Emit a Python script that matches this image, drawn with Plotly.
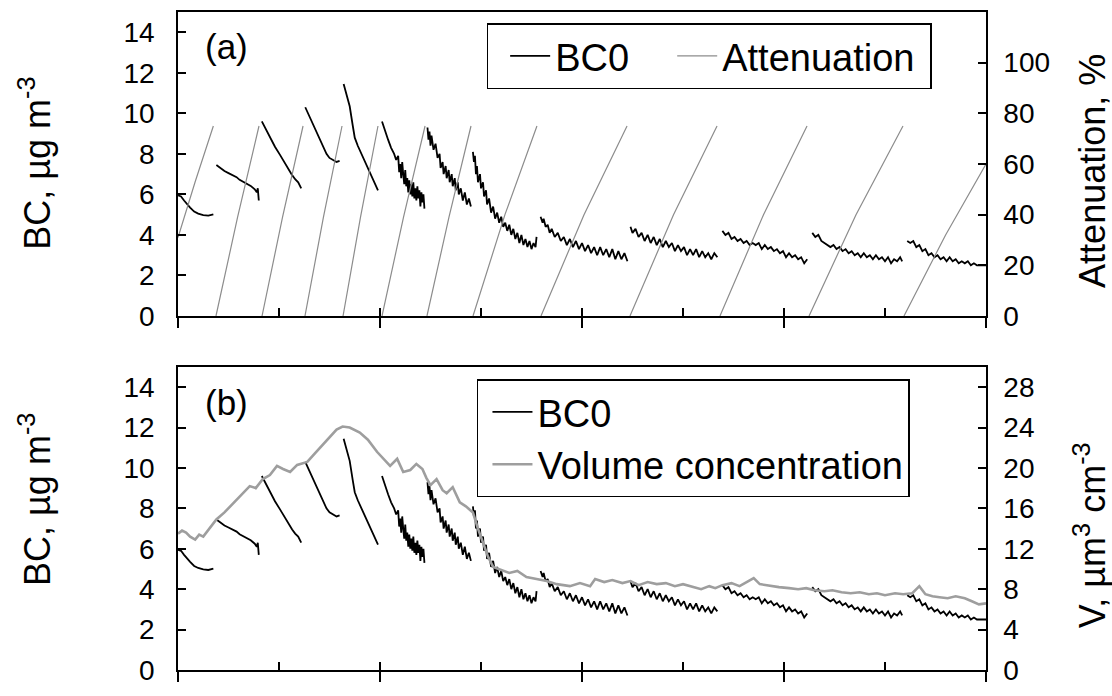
import plotly.graph_objects as go

FONT = "Liberation Sans, Arial, sans-serif"
NBSP = "\u00a0"

# ---- BC0 (µg m-3), one segment per filter spot, None = filter change ----
bc_time = [
    0.00, 0.03, 0.06, 0.09, 0.12, 0.16, 0.20, 0.25, 0.30, 0.35, None,
    0.38, 0.42, 0.46, 0.50, 0.54, 0.58, 0.61, 0.65, 0.69, 0.72, 0.76, 0.78, 0.79, 0.80, None,
    0.83, 0.86, 0.91, 0.96, 1.01, 1.05, 1.09, 1.13, 1.16, 1.19, 1.22, None,
    1.26, 1.30, 1.34, 1.38, 1.41, 1.44, 1.47, 1.50, 1.54, 1.57, 1.60, None,
    1.64, 1.67, 1.70, 1.73, 1.75, 1.78, 1.82, 1.86, 1.90, 1.94, 1.98, None,
    2.02, 2.05, 2.08, 2.11, 2.14, 2.16, 2.18, 2.19, 2.20, 2.21, 2.22, 2.23, 2.24, 2.25, 2.26, 2.27, 2.28,
    2.29, 2.30, 2.31, 2.32, 2.33, 2.34, 2.35, 2.36, 2.37, 2.38, 2.39, 2.40, 2.41, 2.42, 2.43, 2.44, None,
    2.47, 2.48, 2.49, 2.50, 2.51, 2.53, 2.55, 2.57, 2.59, 2.60, 2.62, 2.63, 2.65, 2.66,
    2.68, 2.69, 2.71, 2.72, 2.74, 2.75, 2.77, 2.78, 2.80, 2.82, 2.84, 2.86, 2.88, 2.90, None,
    2.92, 2.93, 2.94, 2.95, 2.96, 2.97, 2.99, 3.00, 3.02, 3.03, 3.05, 3.06, 3.08, 3.10, 3.12, 3.14, 3.16, 3.18,
    3.20, 3.22, 3.24, 3.26, 3.28, 3.30, 3.32, 3.34, 3.36, 3.38, 3.40, 3.42, 3.44, 3.46, 3.48, 3.50, 3.52, 3.54, 3.55, None,
    3.59, 3.61, 3.62, 3.64, 3.66, 3.68, 3.70, 3.73, 3.76, 3.79, 3.82, 3.85, 3.88, 3.91, 3.94, 3.97,
    4.00, 4.03, 4.06, 4.09, 4.12, 4.15, 4.18, 4.21, 4.24, 4.27, 4.30, 4.33, 4.36, 4.39, 4.42, 4.45, None,
    4.48, 4.50, 4.53, 4.56, 4.59, 4.62, 4.65, 4.68, 4.71, 4.74, 4.77, 4.80, 4.83, 4.86, 4.89,
    4.92, 4.95, 4.98, 5.01, 5.04, 5.07, 5.10, 5.13, 5.16, 5.19, 5.22, 5.25, 5.28, 5.31, 5.34, None,
    5.39, 5.42, 5.45, 5.48, 5.51, 5.54, 5.57, 5.60, 5.63, 5.66, 5.69, 5.72, 5.75, 5.78, 5.81,
    5.84, 5.87, 5.90, 5.93, 5.96, 5.99, 6.02, 6.05, 6.08, 6.11, 6.14, 6.17, 6.20, 6.23, None,
    6.28, 6.31, 6.34, 6.37, 6.40, 6.43, 6.46, 6.49, 6.52, 6.55, 6.58, 6.61, 6.64, 6.67, 6.70,
    6.73, 6.76, 6.79, 6.82, 6.85, 6.88, 6.91, 6.94, 6.97, 7.00, 7.03, 7.06, 7.09, 7.12, 7.15, 7.17, None,
    7.22, 7.25, 7.28, 7.31, 7.34, 7.37, 7.40, 7.43, 7.46, 7.49, 7.52, 7.55, 7.58,
    7.61, 7.64, 7.67, 7.70, 7.73, 7.76, 7.79, 7.82, 7.85, 7.88, 7.91, 7.95, 8.00,
]
bc_value = [
    5.95, 5.90, 5.70, 5.50, 5.35, 5.15, 5.05, 4.98, 4.95, 5.02, None,
    7.45, 7.30, 7.15, 7.05, 6.95, 6.85, 6.72, 6.60, 6.48, 6.42, 6.25, 6.10, 6.30, 5.70, None,
    9.60, 9.30, 8.80, 8.35, 7.95, 7.60, 7.30, 6.95, 6.75, 6.60, 6.30, None,
    10.30, 9.85, 9.45, 9.00, 8.70, 8.30, 8.00, 7.80, 7.70, 7.60, 7.65, None,
    11.45, 10.90, 10.35, 9.40, 8.80, 8.40, 7.95, 7.55, 7.10, 6.65, 6.20, None,
    9.6, 9.1, 8.7, 8.3, 8.0, 7.7, 7.9, 7.1, 7.5, 6.8, 7.6, 7.0, 6.5, 7.2, 6.4, 6.8, 6.1,
    6.7, 6.0, 6.5, 5.9, 6.6, 5.8, 6.3, 5.7, 6.4, 5.8, 6.2, 5.4, 6.1, 5.6, 6.0, 5.3, None,
    9.3, 8.7, 9.1, 8.4, 8.9, 8.2, 8.5, 7.8, 8.0, 7.3, 7.6, 7.0, 7.4, 6.8,
    7.2, 6.6, 7.0, 6.4, 6.8, 6.2, 6.6, 6.0, 6.3, 5.7, 6.1, 5.5, 5.8, 5.4, None,
    8.1, 7.6, 7.9, 7.0, 7.4, 6.6, 7.0, 6.3, 6.6, 5.9, 6.2, 5.5, 5.8, 5.1, 5.4, 4.8, 5.1, 4.6,
    4.9, 4.4, 4.6, 4.2, 4.5, 4.0, 4.3, 3.8, 4.1, 3.6, 4.0, 3.5, 3.8, 3.4, 3.7, 3.3, 3.6, 3.4, 3.9, None,
    4.9, 4.6, 4.8, 4.4, 4.5, 4.1, 4.3, 3.9, 4.1, 3.7, 3.9, 3.5, 3.8, 3.4, 3.7, 3.3,
    3.6, 3.2, 3.5, 3.1, 3.4, 3.0, 3.4, 3.0, 3.3, 2.9, 3.3, 2.8, 3.2, 2.8, 3.1, 2.7, None,
    4.4, 4.1, 4.3, 3.9, 4.1, 3.7, 4.0, 3.6, 3.9, 3.5, 3.8, 3.4, 3.7, 3.4, 3.6,
    3.2, 3.5, 3.2, 3.4, 3.0, 3.3, 3.0, 3.3, 2.9, 3.2, 2.9, 3.1, 2.8, 3.1, 2.9, None,
    4.2, 4.0, 4.1, 3.8, 3.9, 3.7, 3.8, 3.6, 3.7, 3.5, 3.6, 3.5, 3.6, 3.3, 3.5,
    3.3, 3.4, 3.2, 3.3, 3.1, 3.2, 2.9, 3.1, 2.9, 3.0, 2.8, 2.9, 2.6, 2.8, None,
    4.1, 3.9, 4.0, 3.7, 3.6, 3.5, 3.4, 3.5, 3.3, 3.4, 3.2, 3.3, 3.1, 3.2, 3.0,
    3.1, 2.9, 3.1, 2.9, 3.0, 2.8, 3.0, 2.8, 2.9, 2.7, 2.9, 2.6, 2.8, 2.7, 2.9, 2.7, None,
    3.7, 3.6, 3.7, 3.4, 3.5, 3.2, 3.3, 3.0, 3.1, 2.9, 3.0, 2.8, 2.9,
    2.7, 2.9, 2.7, 2.8, 2.6, 2.7, 2.6, 2.7, 2.5, 2.6, 2.5, 2.5, 2.5,
]

# ---- Attenuation (%), one ramp per filter spot ----
att_time = [
    0.00, 0.17, 0.35, None,
    0.376, 0.59, 0.802, None,
    0.832, 1.035, 1.238, None,
    1.257, 1.44, 1.624, None,
    1.634, 1.807, 1.980, None,
    2.020, 2.233, 2.446, None,
    2.465, 2.683, 2.901, None,
    2.921, 3.237, 3.554, None,
    3.594, 4.02, 4.446, None,
    4.475, 4.906, 5.337, None,
    5.366, 5.797, 6.228, None,
    6.248, 6.713, 7.178, None,
    7.188, 7.60, 8.00,
]
att_value = [
    31, 53, 75, None,
    0, 39, 75, None,
    0, 39, 75, None,
    0, 39, 75, None,
    0, 39, 75, None,
    0, 39, 75, None,
    0, 39, 75, None,
    0, 40, 75, None,
    0, 40, 75, None,
    0, 40, 75, None,
    0, 40, 75, None,
    0, 40, 75, None,
    0, 32, 60,
]

# ---- Volume concentration (µm3 cm-3) ----
vol_time = [
    0.00, 0.04, 0.08, 0.12, 0.17, 0.21, 0.25, 0.30, 0.38, 0.46,
    0.54, 0.62, 0.71, 0.77, 0.84, 0.91, 0.98, 1.04, 1.11, 1.18,
    1.28, 1.36, 1.44, 1.50, 1.57, 1.63, 1.70, 1.80, 1.88, 1.97,
    2.04, 2.10, 2.17, 2.23, 2.30, 2.36, 2.42, 2.46, 2.50, 2.56,
    2.62, 2.66, 2.72, 2.79, 2.85, 2.92, 2.97, 3.02, 3.07, 3.12,
    3.20, 3.28, 3.36, 3.45, 3.55, 3.65, 3.75, 3.88, 3.98, 4.08,
    4.13, 4.22, 4.30, 4.40, 4.48, 4.56, 4.65, 4.74, 4.83, 4.92,
    5.00, 5.10, 5.18, 5.26, 5.32, 5.39, 5.48, 5.56, 5.63, 5.70,
    5.76, 5.87, 5.95, 6.05, 6.14, 6.22, 6.30, 6.40, 6.48, 6.57,
    6.66, 6.75, 6.84, 6.92, 7.00, 7.10, 7.18, 7.27, 7.34, 7.40,
    7.47, 7.54, 7.62, 7.70, 7.79, 7.86, 7.93, 8.00,
]
vol_value = [
    13.5, 13.8, 13.6, 13.2, 12.9, 13.4, 13.2, 13.9, 14.9, 15.6,
    16.4, 17.2, 18.2, 18.0, 18.9, 19.3, 20.2, 19.9, 19.6, 20.3,
    20.6, 21.5, 22.4, 23.0, 23.8, 24.1, 24.0, 23.5, 22.8, 21.6,
    20.9, 20.2, 20.9, 19.6, 19.8, 20.4, 19.9, 19.0, 18.3, 18.9,
    17.8, 17.5, 18.1, 16.6, 16.2, 15.6, 14.0, 12.6, 11.2, 10.2,
    9.9, 9.6, 9.8, 9.2, 9.0, 8.8, 8.5, 8.3, 8.6, 8.3,
    9.0, 8.7, 8.9, 8.6, 8.8, 8.4, 8.7, 8.5, 8.6, 8.3,
    8.5, 8.2, 8.0, 8.3, 8.1, 8.4, 8.6, 8.3, 8.7, 9.1,
    8.5, 8.3, 8.2, 8.1, 8.0, 8.1, 7.9, 7.8, 7.9, 7.7,
    7.6, 7.7, 7.5, 7.6, 7.4, 7.6, 7.5, 7.6, 8.3, 7.5,
    7.3, 7.2, 7.1, 7.3, 7.1, 6.8, 6.5, 6.6,
]

bc_ticks = [0, 2, 4, 6, 8, 10, 12, 14]
att_ticks = [0, 20, 40, 60, 80, 100]
vol_ticks = [0, 4, 8, 12, 16, 20, 24, 28]
x_minor_ticks = [1, 2, 3, 4, 5, 6, 7]
x_major_ticks = [0, 2, 4, 6, 8]

fig = go.Figure()
fig.add_trace(go.Scatter(x=bc_time, y=bc_value, mode="lines", name="BC0" + NBSP * 2,
                         line=dict(color="black", width=1.8),
                         xaxis="x", yaxis="y", legend="legend"))
fig.add_trace(go.Scatter(x=att_time, y=att_value, mode="lines", name="Attenuation" + NBSP,
                         line=dict(color="#8c8c8c", width=1.2),
                         xaxis="x", yaxis="y2", legend="legend"))
fig.add_trace(go.Scatter(x=bc_time, y=bc_value, mode="lines", name="BC0",
                         line=dict(color="black", width=1.8),
                         xaxis="x2", yaxis="y3", legend="legend2"))
fig.add_trace(go.Scatter(x=vol_time, y=vol_value, mode="lines", name="Volume concentration",
                         line=dict(color="#9e9e9e", width=2.6),
                         xaxis="x2", yaxis="y4", legend="legend2"))
# empty helper traces so the overlay tick axes are drawn
fig.add_trace(go.Scatter(x=[], y=[], xaxis="x3", yaxis="y", showlegend=False, hoverinfo="skip"))
fig.add_trace(go.Scatter(x=[], y=[], xaxis="x4", yaxis="y3", showlegend=False, hoverinfo="skip"))

axline = dict(showline=True, linecolor="black", linewidth=1.5, showgrid=False, zeroline=False,
              tickcolor="black", tickwidth=1.5)
tickfont = dict(family=FONT, size=28, color="black")

xbase = dict(range=[0, 8], ticks="inside", tickvals=x_minor_ticks, ticklen=8,
             showticklabels=False, mirror=True, **axline)
xover = dict(range=[0, 8], ticks="outside", tickvals=x_major_ticks, ticklen=11,
             showticklabels=False, showline=False, showgrid=False, zeroline=False,
             tickcolor="black", tickwidth=1.5)

yleft = dict(ticks="inside", ticklen=8, tickfont=tickfont, ticklabelstandoff=16, **axline)
yright = dict(ticks="inside", ticklen=8, tickfont=tickfont, ticklabelstandoff=10, **axline)

D_A = [0.538, 1.0]
D_B = [0.0, 0.4606]

fig.update_layout(
    width=1112, height=696, autosize=False,
    margin=dict(l=178, r=126, t=10, b=13),
    paper_bgcolor="white", plot_bgcolor="white",
    font=dict(family=FONT, color="black"),
    xaxis=dict(domain=[0, 1], anchor="y", **xbase),
    xaxis3=dict(overlaying="x", anchor="y", **xover),
    xaxis2=dict(domain=[0, 1], anchor="y3", **xbase),
    xaxis4=dict(overlaying="x2", anchor="y3", **xover),
    yaxis=dict(domain=D_A, anchor="x", range=[0, 15], tickvals=bc_ticks, side="left", **yleft),
    yaxis2=dict(overlaying="y", anchor="x", side="right", range=[0, 120], tickvals=att_ticks, **yright),
    yaxis3=dict(domain=D_B, anchor="x2", range=[0, 15], tickvals=bc_ticks, side="left", **yleft),
    yaxis4=dict(overlaying="y3", anchor="x2", side="right", range=[0, 30], tickvals=vol_ticks, **yright),
    legend=dict(x=0.382, y=0.983, xanchor="left", yanchor="top", orientation="h",
                bgcolor="white", bordercolor="black", borderwidth=1.5,
                font=dict(family=FONT, size=38, color="black"), itemwidth=40,
                indentation=17),
    legend2=dict(x=0.370, y=0.442, xanchor="left", yanchor="top", orientation="v",
                 bgcolor="white", bordercolor="black", borderwidth=1.5,
                 font=dict(family=FONT, size=38, color="black"), itemwidth=40,
                 indentation=9, tracegroupgap=0),
    showlegend=True,
)

title_font = dict(family=FONT, size=36, color="black")
annotations = [
    dict(text="(a)", x=0.031, y=0.948, xref="paper", yref="paper", xanchor="left", yanchor="middle",
         showarrow=False, font=dict(family=FONT, size=35, color="black")),
    dict(text="(b)", x=0.031, y=0.406, xref="paper", yref="paper", xanchor="left", yanchor="middle",
         showarrow=False, font=dict(family=FONT, size=35, color="black")),
    dict(text="BC, µg m<sup>-3</sup>", x=-0.177, y=0.771, xref="paper", yref="paper",
         xanchor="center", yanchor="middle", textangle=-90, showarrow=False, font=title_font),
    dict(text="BC, µg m<sup>-3</sup>", x=-0.177, y=0.260, xref="paper", yref="paper",
         xanchor="center", yanchor="middle", textangle=-90, showarrow=False, font=title_font),
    dict(text="Attenuation, %", x=1.132, y=0.758, xref="paper", yref="paper",
         xanchor="center", yanchor="middle", textangle=-90, showarrow=False, font=title_font),
    dict(text="V, µm<sup>3</sup> cm<sup>-3</sup>", x=1.129, y=0.205, xref="paper", yref="paper",
         xanchor="center", yanchor="middle", textangle=-90, showarrow=False, font=title_font),
]
fig.update_layout(annotations=annotations)

fig.write_html(
    "out.html",
    config={"displayModeBar": False},
    post_script="document.body.style.margin='0px';document.body.style.overflow='hidden';",
)
